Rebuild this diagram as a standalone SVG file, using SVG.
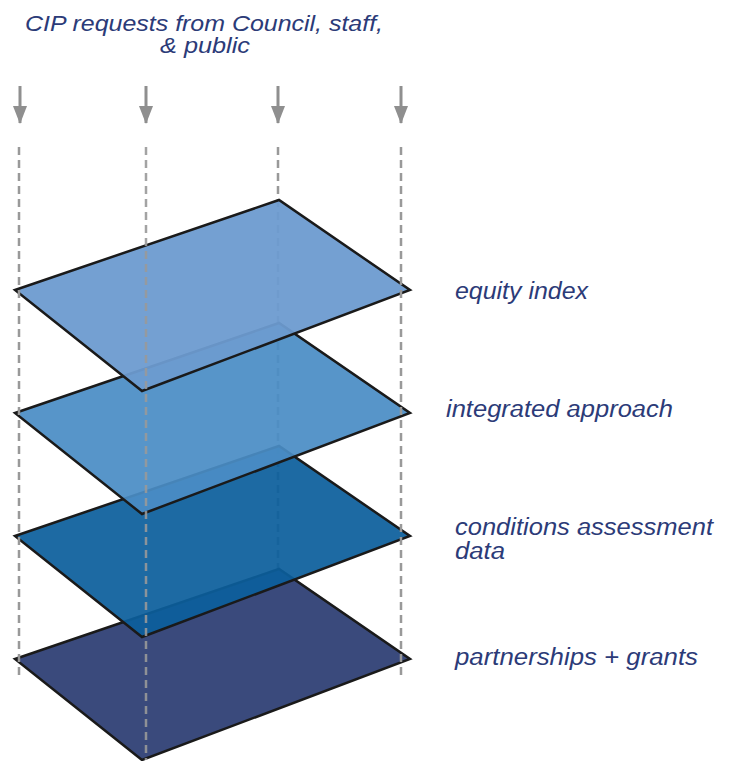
<svg xmlns="http://www.w3.org/2000/svg" width="733" height="761" viewBox="0 0 733 761">
<defs>
<style>
.lbl{font-family:"Liberation Sans",Arial,sans-serif;font-style:italic;font-size:23px;fill:#2c3b78}
.ttl{font-size:21.5px}
.dash{stroke:#999;stroke-width:2.5;stroke-dasharray:8 5;fill:none}
.arr{stroke:#8f8f8f;stroke-width:3;fill:none}
.layer{stroke:#1a1a1a;stroke-width:2.5;stroke-linejoin:miter}
</style>
<marker id="ah" markerUnits="userSpaceOnUse" viewBox="0 0 18 14" markerWidth="18" markerHeight="14" refX="17" refY="7" orient="auto">
<path d="M0,0 L18,7 L0,14 Z" fill="#8f8f8f"/>
</marker>
</defs>
<rect width="733" height="761" fill="#fff"/>
<g id="title">
<text class="lbl ttl" x="25" y="31" textLength="358" lengthAdjust="spacingAndGlyphs">CIP requests from Council, staff,</text>
<text class="lbl ttl" x="160" y="53" textLength="90" lengthAdjust="spacingAndGlyphs">&amp; public</text>
</g>
<g id="connectors-back">
<line class="dash" x1="278" y1="147" x2="278" y2="637"/>
</g>
<g id="layer4">
<polygon class="layer" points="15,659 279,569 410,659 142,760" fill="#3a4a7c"/>
<text class="lbl" x="455" y="665" textLength="243" lengthAdjust="spacingAndGlyphs">partnerships + grants</text>
</g>
<g id="layer3">
<polygon class="layer" points="15,536 279,446 410,536 142,637" fill="#0c5f9c" fill-opacity="0.93"/>
<text class="lbl" x="455" y="535" textLength="258" lengthAdjust="spacingAndGlyphs">conditions assessment</text>
<text class="lbl" x="455" y="559" textLength="50" lengthAdjust="spacingAndGlyphs">data</text>
</g>
<g id="layer2">
<polygon class="layer" points="15,413 279,323 410,413 142,514" fill="#4a8dc5" fill-opacity="0.93"/>
<text class="lbl" x="446" y="417" textLength="227" lengthAdjust="spacingAndGlyphs">integrated approach</text>
</g>
<g id="layer1">
<polygon class="layer" points="15,290 279,200 410,290 142,391" fill="#6d9bd0" fill-opacity="0.95"/>
<text class="lbl" x="455" y="299" textLength="133" lengthAdjust="spacingAndGlyphs">equity index</text>
</g>
<g id="connectors">
<line class="arr" x1="20" y1="86" x2="20" y2="123" marker-end="url(#ah)"/>
<line class="arr" x1="146" y1="86" x2="146" y2="123" marker-end="url(#ah)"/>
<line class="arr" x1="278" y1="86" x2="278" y2="123" marker-end="url(#ah)"/>
<line class="arr" x1="401" y1="86" x2="401" y2="123" marker-end="url(#ah)"/>
<line class="dash" x1="19" y1="147" x2="19" y2="680"/>
<line class="dash" x1="146" y1="147" x2="146" y2="760" stroke="#a8a8a8" stroke-opacity="0.9"/>
<line class="dash" x1="401" y1="147" x2="401" y2="680"/>
</g>
</svg>
